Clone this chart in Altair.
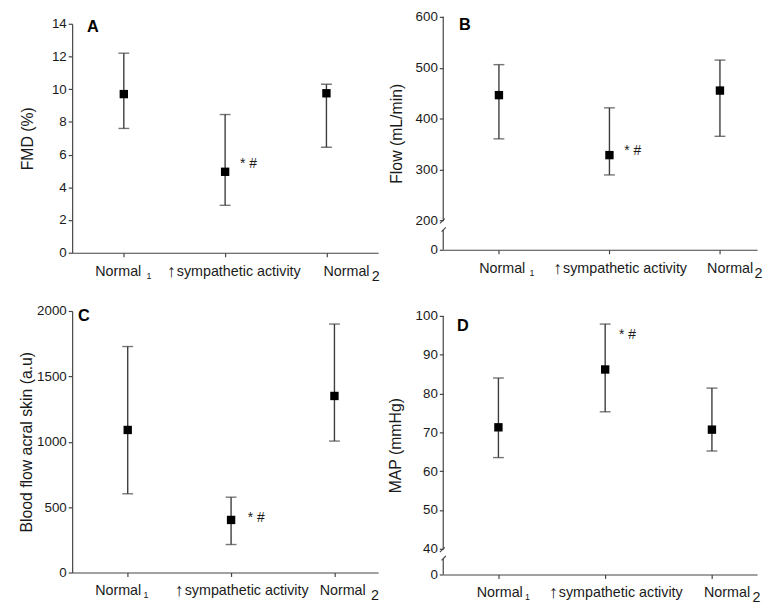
import altair as alt
import pandas as pd

# ---------------- data ----------------
categories = ["Normal 1", "\u2191sympathetic activity", "Normal 2"]
label_main = ["Normal", "sympathetic activity", "Normal"]
label_sub = ["1", "", "2"]
arrow = "\u2191"

fmd_mean = [9.7, 4.95, 9.75]
fmd_hi = [12.2, 8.45, 10.3]
fmd_lo = [7.6, 2.9, 6.45]

flow_mean = [446, 328, 455]
flow_hi = [506, 421, 515]
flow_lo = [360, 289, 365]

skin_mean = [1090, 402, 1350]
skin_hi = [1728, 576, 1900]
skin_lo = [602, 214, 1005]

map_mean = [71.3, 86.2, 70.7]
map_hi = [84.0, 97.9, 81.4]
map_lo = [63.5, 75.3, 65.2]

panel_letters = ["A", "B", "C", "D"]
y_titles = ["FMD (%)", "Flow (mL/min)", "Blood flow acral skin (a.u)", "MAP (mmHg)"]
y_ticks = [
    [0, 2, 4, 6, 8, 10, 12, 14],
    [0, 200, 300, 400, 500, 600],
    [0, 500, 1000, 1500, 2000],
    [0, 40, 50, 60, 70, 80, 90, 100],
]
sig_text = "* #"
sig_y = [5.45, 336, 415, 95]

# ---------------- styles ----------------
AX = "#444444"
EB = "#3c3c3c"
TXT = "#1a1a1a"
FONT = "Liberation Sans"

styles = [
    dict(w=310, h=241, domain=[0, 14], rng=[241, 9], pad=0.51, align=0.5, tx=-45,
         letter=(15, 12), lab=[-29, 23, -59, -3, 46], sig_dx=15, brk=None, ldy=24),
    dict(w=318, h=238, domain=[0, 200, 600], rng=[238, 208, 2], pad=0.42, align=0.6, tx=-47,
         letter=(16, 10), lab=[-20, 31, -57, -13, 35], sig_dx=15, ldy=24,
         brk=dict(top=(600, 198), bottom=(0, 133), s1=(203, 178), s2=(151, 122))),
    dict(w=310, h=267, domain=[0, 2000], rng=[267, 2], pad=0.48, align=0.56, tx=-46,
         letter=(6, 7), lab=[-33, 16, -57, -15, 37], sig_dx=17, brk=None, ldy=23),
    dict(w=318, h=269, domain=[0, 40, 100], rng=[269, 243, 7], pad=0.47, align=0.55, tx=-48,
         letter=(14, 17), lab=[-22, 27, -57, -8, 41], sig_dx=14, ldy=23,
         brk=dict(top=(100, 39.6), bottom=(0, 24.6), s1=(40.4, 34.9), s2=(28.8, 22.0))),
]

series = [
    (fmd_mean, fmd_hi, fmd_lo),
    (flow_mean, flow_hi, flow_lo),
    (skin_mean, skin_hi, skin_lo),
    (map_mean, map_hi, map_lo),
]


def make_panel(i):
    means, his, los = series[i]
    st = styles[i]
    df = pd.DataFrame({"cat": categories, "mean": means, "hi": his, "lo": los})

    xenc = alt.X(
        "cat:N", sort=categories,
        scale=alt.Scale(type="point", domain=categories, padding=st["pad"], align=st["align"]),
        axis=alt.Axis(labels=False, title=None, tickSize=4, grid=False,
                      domainColor=AX, tickColor=AX, domainWidth=1.2, tickWidth=1.2),
    )
    yscale = alt.Scale(domain=st["domain"], range=st["rng"], nice=False, zero=False)
    yaxis = alt.Axis(
        values=y_ticks[i], tickCount=len(y_ticks[i]) + 2, format="d",
        labelOverlap=False, labelFlush=False,
        title=y_titles[i], titleX=st["tx"], titleBaseline="middle",
        titleFontSize=16, titleFontWeight="normal", titleColor=TXT,
        labelFontSize=13.5, labelColor=TXT, labelPadding=2, tickSize=4, grid=False,
        domain=st["brk"] is None, domainColor=AX, domainWidth=1.2, tickColor=AX, tickWidth=1.2,
    )

    def yq(field):
        return alt.Y(field, scale=yscale, axis=yaxis)

    base = alt.Chart(df)
    layers = [
        base.mark_rule(color=EB, strokeWidth=1.4).encode(x=xenc, y=yq("lo:Q"), y2="hi:Q"),
        base.mark_tick(color=EB, size=11, thickness=1.4, orient="horizontal").encode(x=xenc, y=yq("hi:Q")),
        base.mark_tick(color=EB, size=11, thickness=1.4, orient="horizontal").encode(x=xenc, y=yq("lo:Q")),
        base.mark_square(color="black", size=72, opacity=1).encode(x=xenc, y=yq("mean:Q")),
    ]

    # significance annotation
    sig_df = pd.DataFrame({"cat": [categories[1]], "v": [sig_y[i]], "t": [sig_text]})
    layers.append(
        alt.Chart(sig_df).mark_text(align="left", baseline="middle", dx=st["sig_dx"], fontSize=14,
                                    color=TXT)
        .encode(x=xenc, y=yq("v:Q"), text="t:N")
    )

    # category labels (with subscripts and arrow)
    h0 = st["rng"][0]
    lab = st["lab"]
    d = st["ldy"]
    pieces = [
        (categories[0], label_main[0], lab[0], 14.5, d),
        (categories[0], label_sub[0], lab[1], 9, d + 3),
        (categories[1], arrow, lab[2], 18, d + 1),
        (categories[1], label_main[1], lab[2] + 10, 14.5, d),
        (categories[2], label_main[2], lab[3], 14.5, d),
        (categories[2], label_sub[2], lab[4], 14.5, d + 5),
    ]
    for cat, txt, dx, fs, dy in pieces:
        pdf = pd.DataFrame({"cat": [cat], "t": [txt]})
        layers.append(
            alt.Chart(pdf).mark_text(align="left", baseline="alphabetic", dx=dx, fontSize=fs,
                                     color=TXT)
            .encode(x=xenc, y=alt.value(h0 + dy), text="t:N")
        )

    # panel letter
    ldf = pd.DataFrame({"t": [panel_letters[i]]})
    layers.append(
        alt.Chart(ldf).mark_text(align="left", baseline="middle", fontSize=16.5, fontWeight="bold",
                                 color="black")
        .encode(x=alt.value(st["letter"][0]), y=alt.value(st["letter"][1]), text="t:N")
    )

    # broken axis
    if st["brk"] is not None:
        b = st["brk"]
        one = pd.DataFrame({"k": [0]})
        layers.append(alt.Chart(one).mark_rule(color=AX, strokeWidth=1.2).encode(
            x=alt.value(0), y=alt.datum(b["top"][0]), y2=alt.datum(b["top"][1])))
        layers.append(alt.Chart(one).mark_rule(color=AX, strokeWidth=1.2).encode(
            x=alt.value(0), y=alt.datum(b["bottom"][0]), y2=alt.datum(b["bottom"][1])))
        layers.append(alt.Chart(one).mark_rule(color=AX, strokeWidth=1.1).encode(
            x=alt.value(-3.4), x2=alt.value(1.6), y=alt.datum(b["s1"][1]), y2=alt.datum(b["s1"][0])))
        layers.append(alt.Chart(one).mark_rule(color=AX, strokeWidth=1.1).encode(
            x=alt.value(-1.7), x2=alt.value(2.6), y=alt.datum(b["s2"][1]), y2=alt.datum(b["s2"][0])))

    return alt.layer(*layers).properties(width=st["w"], height=st["h"])


panels = [make_panel(i) for i in range(4)]

chart = (
    alt.concat(*panels, columns=2, spacing={"row": 57, "column": 66}, bounds="flush", align="each")
    .properties(padding={"left": 10, "top": -3, "right": 0, "bottom": 0}, background="white")
    .configure(font=FONT)
    .configure_view(stroke="transparent")
)

chart.save("out.html", embed_options={"renderer": "svg", "actions": False})
